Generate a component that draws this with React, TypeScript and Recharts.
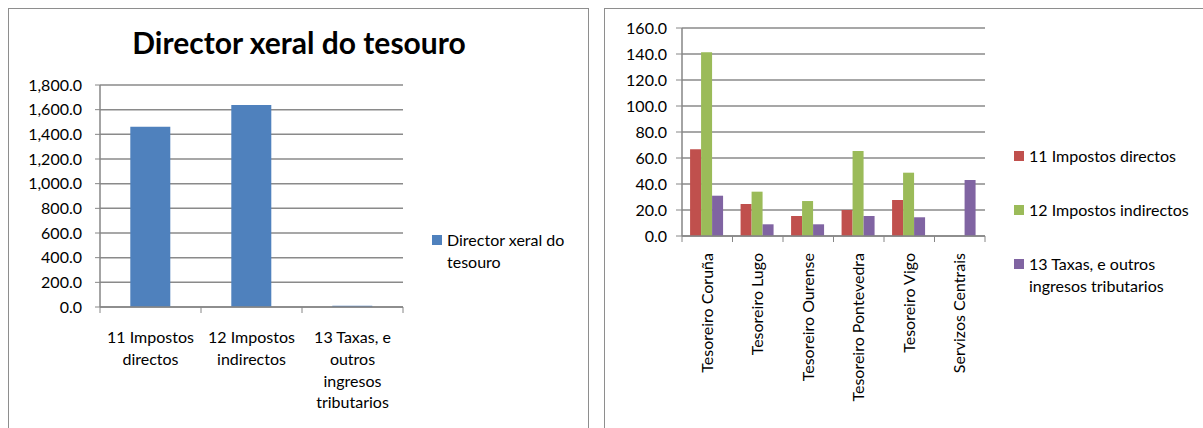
import React from 'react';
import { BarChart, Bar, XAxis, YAxis, CartesianGrid, Legend, Text } from 'recharts';

// ---------- Left chart data ----------
const leftTitle = 'Director xeral do tesouro';
const leftSeriesName = 'Director xeral do tesouro';
const leftCategories = [
  '11 Impostos directos',
  '12 Impostos indirectos',
  '13 Taxas, e outros ingresos tributarios',
];
const leftValues = [1462, 1638, 11];
const leftTicks = [0, 200, 400, 600, 800, 1000, 1200, 1400, 1600, 1800];

// ---------- Right chart data ----------
const rightCategories = [
  'Tesoreiro Coruña',
  'Tesoreiro Lugo',
  'Tesoreiro Ourense',
  'Tesoreiro Pontevedra',
  'Tesoreiro Vigo',
  'Servizos Centrais',
];
const rightSeriesNames = [
  '11 Impostos directos',
  '12 Impostos indirectos',
  '13 Taxas, e outros ingresos tributarios',
];
const directosValues = [66.7, 24.6, 15.4, 20.0, 27.7, 0];
const indirectosValues = [141.3, 34.1, 26.9, 65.4, 48.7, 0];
const taxasValues = [31.0, 9.0, 9.0, 15.4, 14.4, 43.1];
const rightTicks = [0, 20, 40, 60, 80, 100, 120, 140, 160];

const leftData = leftCategories.map((c, i) => ({ category: c, value: leftValues[i] }));
const rightData = rightCategories.map((c, i) => ({
  category: c,
  directos: directosValues[i],
  indirectos: indirectosValues[i],
  taxas: taxasValues[i],
}));

const AXIS = '#868686';
const GRID = '#8a8a8a';
const BORDER = '#8e8e8e';
const FONT = 'Lato, "Open Sans", sans-serif';

const fmt = (v: number) =>
  v.toLocaleString('en-US', { minimumFractionDigits: 1, maximumFractionDigits: 1 });

const LeftTick = (props: any) => {
  const { x, y, payload, index } = props;
  const half = payload && payload.offset ? payload.offset : 50.5;
  const last = index === leftCategories.length - 1;
  return (
    <g>
      <line x1={x - half} x2={x - half} y1={y} y2={y + 6} stroke={AXIS} />
      {last && <line x1={x + half} x2={x + half} y1={y} y2={y + 6} stroke={AXIS} />}
      <Text
        x={x}
        y={y + 25}
        width={90}
        textAnchor="middle"
        verticalAnchor="start"
        lineHeight={21.7}
        fontSize={16}
        fill="#000"
        style={{ fontFamily: FONT }}
      >
        {payload.value}
      </Text>
    </g>
  );
};

const RightTick = (props: any) => {
  const { x, y, payload, index } = props;
  const half = payload && payload.offset ? payload.offset : 25.25;
  const last = index === rightCategories.length - 1;
  return (
    <g>
      <line x1={x - half} x2={x - half} y1={y} y2={y + 6} stroke={AXIS} />
      {last && <line x1={x + half} x2={x + half} y1={y} y2={y + 6} stroke={AXIS} />}
      <Text
        x={x}
        y={y + 17}
        angle={-90}
        textAnchor="end"
        verticalAnchor="middle"
        fontSize={16}
        fill="#000"
      >
        {payload.value}
      </Text>
    </g>
  );
};

const makeLegend = (textWidth: number, rowGap: number) => (props: any) => {
  const payload = props.payload || [];
  return (
    <div style={{ fontFamily: FONT }}>
      {payload.map((p: any, i: number) => (
        <div
          key={i}
          style={{ display: 'flex', alignItems: 'flex-start', marginTop: i ? rowGap : 0 }}
        >
          <div
            style={{
              width: 10,
              height: 10,
              background: p.color,
              marginTop: 6,
              marginRight: 5,
              flex: 'none',
            }}
          />
          <div style={{ width: textWidth, fontSize: 16, lineHeight: '22px', color: '#000' }}>
            {p.value}
          </div>
        </div>
      ))}
    </div>
  );
};

export default function App() {
  return (
    <div
      style={{
        position: 'absolute',
        left: 0,
        top: 0,
        width: 1203,
        height: 428,
        overflow: 'hidden',
        background: '#fff',
        fontFamily: FONT,
      }}
    >
      {/* panel borders */}
      <div
        style={{
          position: 'absolute',
          left: 8,
          top: 8,
          width: 581,
          height: 440,
          border: `1px solid ${BORDER}`,
          boxSizing: 'border-box',
        }}
      />
      <div
        style={{
          position: 'absolute',
          left: 604,
          top: 8,
          width: 640,
          height: 440,
          border: `1px solid ${BORDER}`,
          boxSizing: 'border-box',
        }}
      />

      {/* left title */}
      <div
        style={{
          position: 'absolute',
          left: 8,
          top: 24,
          width: 582,
          textAlign: 'center',
          fontSize: 30,
          fontWeight: 700,
          lineHeight: '36px',
          color: '#000',
          letterSpacing: 0,
        }}
      >
        {leftTitle}
      </div>

      {/* left chart */}
      <div style={{ position: 'absolute', left: 8, top: 8 }}>
        <BarChart
          width={582}
          height={420}
          data={leftData}
          margin={{ top: 77, right: 187, bottom: 11, left: 0 }}
          barCategoryGap="30%"
        >
          <CartesianGrid vertical={false} stroke={GRID} strokeWidth={1.5} />
          <XAxis
            dataKey="category"
            interval={0}
            height={110}
            tickLine={false}
            tickSize={0}
            tickMargin={0}
            axisLine={{ stroke: AXIS, strokeWidth: 1.5 }}
            tick={<LeftTick />}
          />
          <YAxis
            domain={[0, 1800]}
            ticks={leftTicks}
            interval={0}
            width={92}
            tickFormatter={fmt}
            tickSize={5}
            tickMargin={13}
            axisLine={{ stroke: AXIS, strokeWidth: 1.5 }}
            tickLine={{ stroke: AXIS }}
            tick={{ fontSize: 16, fill: '#000' }}
          />
          <Legend
            layout="horizontal"
            align="center"
            verticalAlign="middle"
            wrapperStyle={{ left: 424, top: 221, width: 160, height: 'auto' }}
            content={makeLegend(130, 0)}
          />
          <Bar dataKey="value" name={leftSeriesName} fill="#4F81BD" isAnimationActive={false} />
        </BarChart>
      </div>

      {/* right chart */}
      <div style={{ position: 'absolute', left: 604, top: 8 }}>
        <BarChart
          width={599}
          height={420}
          data={rightData}
          margin={{ top: 20, right: 218, bottom: 12, left: 0 }}
          barCategoryGap="16%"
          barGap={0}
        >
          <CartesianGrid vertical={false} stroke={GRID} strokeWidth={1.5} />
          <XAxis
            dataKey="category"
            interval={0}
            height={180}
            tickLine={false}
            tickSize={0}
            tickMargin={0}
            axisLine={{ stroke: AXIS, strokeWidth: 1.5 }}
            tick={<RightTick />}
          />
          <YAxis
            domain={[0, 160]}
            ticks={rightTicks}
            interval={0}
            width={78}
            tickFormatter={fmt}
            tickSize={6}
            tickMargin={9}
            axisLine={{ stroke: AXIS, strokeWidth: 1.5 }}
            tickLine={{ stroke: AXIS }}
            tick={{ fontSize: 16, fill: '#000' }}
          />
          <Legend
            layout="horizontal"
            align="center"
            verticalAlign="middle"
            wrapperStyle={{ left: 410, top: 137, width: 185, height: 'auto' }}
            content={makeLegend(170, 32)}
          />
          <Bar dataKey="directos" name={rightSeriesNames[0]} fill="#C0504D" isAnimationActive={false} />
          <Bar dataKey="indirectos" name={rightSeriesNames[1]} fill="#9BBB59" isAnimationActive={false} />
          <Bar dataKey="taxas" name={rightSeriesNames[2]} fill="#8064A2" isAnimationActive={false} />
        </BarChart>
      </div>
    </div>
  );
}
